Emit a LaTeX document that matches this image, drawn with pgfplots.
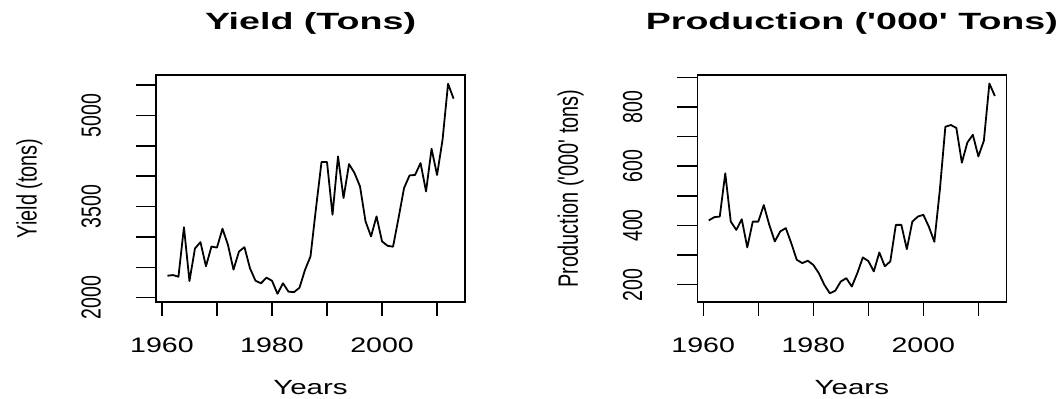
\documentclass[border=0pt]{standalone}
\usepackage{fontspec}
\usepackage{pgfplots}
\usepackage{pgfplotstable}
\pgfplotsset{compat=1.18}
\setmainfont{Liberation Sans}
\newfontfamily\titlef[FakeStretch=1.6]{Liberation Sans}
\newfontfamily\tickf[FakeStretch=1.36]{Liberation Sans}
\newfontfamily\labf[FakeStretch=1.44]{Liberation Sans}
\newfontfamily\vf[FakeStretch=0.71]{Liberation Sans}

\pgfplotstableread{
year value
1961 2362
1962 2373
1963 2346
1964 3160
1965 2275
1966 2810
1967 2915
1968 2518
1969 2842
1970 2825
1971 3135
1972 2870
1973 2463
1974 2760
1975 2832
1976 2485
1977 2280
1978 2238
1979 2330
1980 2280
1981 2065
1982 2238
1983 2100
1984 2092
1985 2165
1986 2458
1987 2680
1988 3475
1989 4232
1990 4232
1991 3365
1992 4325
1993 3640
1994 4199
1995 4051
1996 3831
1997 3256
1998 3009
1999 3338
2000 2927
2001 2855
2002 2840
2003 3311
2004 3804
2005 4012
2006 4020
2007 4215
2008 3749
2009 4451
2010 4020
2011 4599
2012 5520
2013 5274
}\yieldtab

\pgfplotstableread{
year value
1961 417
1962 428
1963 430
1964 576
1965 413
1966 385
1967 421
1968 326
1969 413
1970 413
1971 469
1972 402
1973 346
1974 380
1975 391
1976 340
1977 284
1978 273
1979 281
1980 267
1981 239
1982 200
1983 171
1984 180
1985 211
1986 222
1987 194
1988 239
1989 292
1990 280
1991 245
1992 309
1993 262
1994 279
1995 402
1996 402
1997 320
1998 413
1999 430
2000 436
2001 396
2002 345
2003 520
2004 733
2005 739
2006 729
2007 612
2008 680
2009 706
2010 633
2011 686
2012 879
2013 837
}\prodtab

\pgfplotsset{rpanel/.style={
  scale only axis, width=309bp, height=227bp, anchor=south west,
  axis line style={line width=1.5bp, black},
  tick align=outside, xtick pos=bottom, ytick pos=left,
  every tick/.style={black, line width=1.5bp},
  xtick style={/pgfplots/major tick length=14bp},
  ytick style={/pgfplots/major tick length=20bp},
  xmin=1958.92, xmax=2015.08,
  xtick={1960,1970,...,2010},
  xticklabels={1960,,1980,,2000,},
  xticklabel style={font=\tickf\fontsize{21bp}{21bp}\selectfont, anchor=base, yshift=-46bp},
  yticklabel style={font=\vf\fontsize{27.5bp}{27.5bp}\selectfont, xshift=-51bp, rotate=90, anchor=base},
  title style={font=\titlef\bfseries\fontsize{23.5bp}{23.5bp}\selectfont, at={(axis description cs:0.5,1.1762)}, anchor=base},
  xlabel style={font=\labf\fontsize{20.5bp}{20.5bp}\selectfont, at={(axis description cs:0.5,-0.408)}, anchor=base},
  ylabel style={font=\vf\fontsize{28bp}{28bp}\selectfont, at={(axis description cs:-0.3867,0.5)}, anchor=base, rotate=0},
  xlabel={Years},
}}

\begin{document}
\begin{tikzpicture}[x=1bp,y=1bp]
\path[use as bounding box] (0,0) rectangle (1063,398);
\begin{axis}[rpanel, at={(156bp,96bp)},
  ymin=1930, ymax=5664,
  ytick={2000,2500,...,5500},
  yticklabels={2000,,,3500,,,5000,},
  title={Yield (Tons)},
  ylabel={Yield (tons)}]
\addplot[black, line width=1.8bp, no markers, line join=round] table[x=year, y=value] {\yieldtab};
\end{axis}
\begin{axis}[rpanel, at={(697.3bp,96bp)},
  ymin=141.7, ymax=907.8,
  ytick={200,300,...,900},
  yticklabels={200,,400,,600,,800,},
  title={Production ('000' Tons)},
  ylabel={Production ('000' tons)}]
\addplot[black, line width=1.8bp, no markers, line join=round] table[x=year, y=value] {\prodtab};
\end{axis}
\end{tikzpicture}
\end{document}
